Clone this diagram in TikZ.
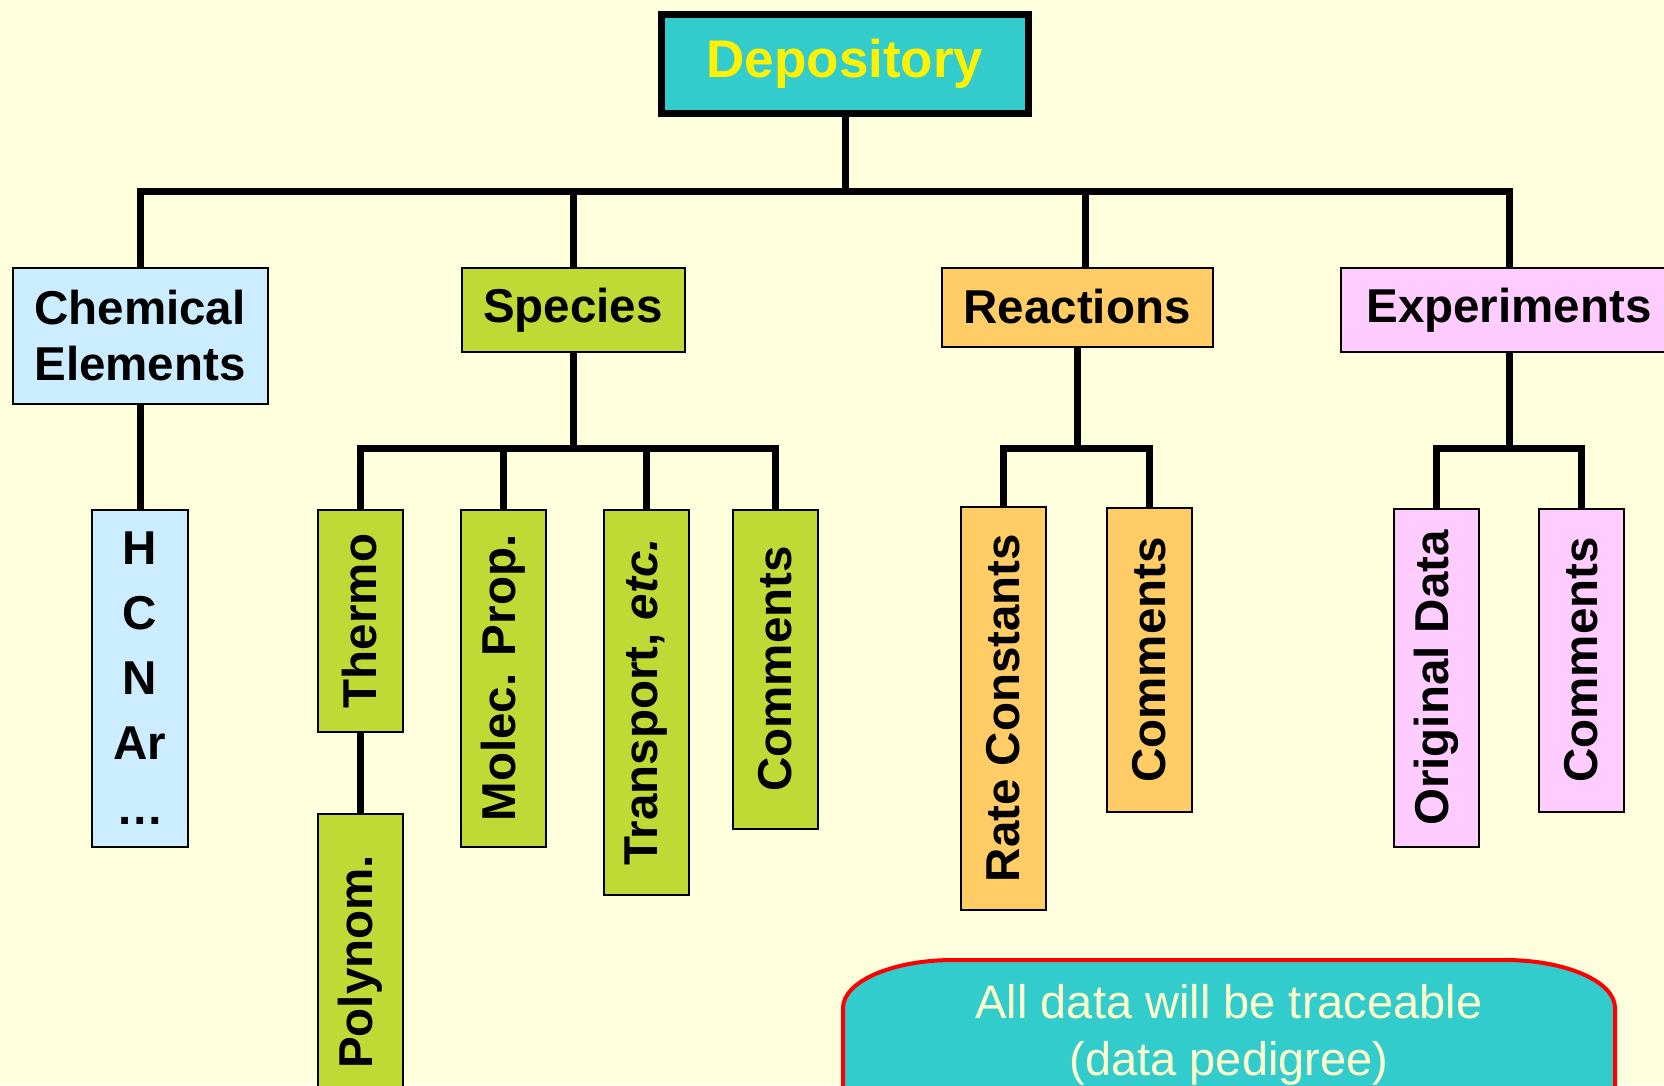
\documentclass[tikz,border=0pt]{standalone}
\usepackage{fontspec}
\setmainfont{Liberation Sans}
\usetikzlibrary{positioning,calc}

\definecolor{paper}{HTML}{FFFFDD}
\definecolor{depcyan}{HTML}{33CCCC}
\definecolor{elemblue}{HTML}{CCECFF}
\definecolor{specgreen}{HTML}{BFDA35}
\definecolor{reacorange}{HTML}{FFCC66}
\definecolor{exppink}{HTML}{FFCCFF}
\definecolor{notecream}{HTML}{FFFFCC}

\tikzset{
  box/.style={draw=black, line width=2pt, inner sep=0pt, align=center,
    font=\fontsize{47.5}{56}\selectfont\bfseries},
  vbox/.style={box, rotate=90, minimum height=85pt},
  link/.style={line width=7pt},
}

\begin{document}
\begin{tikzpicture}[x=1pt,y=-1pt]

  \fill[paper] (0,0) rectangle (1664,1085);
  \useasboundingbox (0,0) rectangle (1664,1085);
  \clip (0,0) rectangle (1664,1085);

  % top level
  \node[box, line width=7pt, fill=depcyan, text=yellow, minimum width=367pt, minimum height=99pt,
        font=\fontsize{53}{60}\selectfont\bfseries] (depository) at (845,64) {Depository};

  \node[box, fill=elemblue, minimum width=255pt, minimum height=136pt] (chem) at (140,336) {Chemical\\Elements};
  \node[box, fill=specgreen, minimum width=223pt, minimum height=84pt] (species) at (573,310) {Species};
  \node[box, fill=reacorange, minimum width=271pt, minimum height=79pt] (reactions) at (1077,307) {Reactions};
  \node[box, fill=exppink, minimum width=336pt, minimum height=84pt] (experiments) at (1509,310) {Experiments};

  % second level
  \node[box, fill=elemblue, minimum width=96pt, minimum height=337pt,
        font=\fontsize{47.5}{65}\selectfont\bfseries] (elements) at (140,678) {H\\C\\N\\Ar\\…};

  \node[vbox, fill=specgreen, minimum width=222pt] (thermo) at (360,621) {Thermo};
  \node[vbox, fill=specgreen, minimum width=297pt] (polynom) at (360,962) {Polynom.};
  \node[vbox, fill=specgreen, minimum width=337pt] (molec) at (503,678) {Molec. Prop.};
  \node[vbox, fill=specgreen, minimum width=385pt] (transport) at (646,702) {Transport, \textit{etc.}};
  \node[vbox, fill=specgreen, minimum width=319pt] (speccomments) at (775,669) {Comments};

  \node[vbox, fill=reacorange, minimum width=403pt] (rate) at (1003,708) {Rate Constants};
  \node[vbox, fill=reacorange, minimum width=304pt] (reaccomments) at (1149,660) {Comments};

  \node[vbox, fill=exppink, minimum width=338pt] (original) at (1436,678) {Original Data};
  \node[vbox, fill=exppink, minimum width=303pt] (expcomments) at (1581,660) {Comments};

  % connectors
  \coordinate (bus) at (845,191);
  \coordinate (subbus) at (845,448);

  \draw[link] (depository.south) -- (depository.south |- bus);
  \draw[link] (chem.north) -- (chem.north |- bus) -| (experiments.north);
  \draw[link] (species.north) -- (species.north |- bus);
  \draw[link] ([xshift=8pt]reactions.north) -- ([xshift=8pt]reactions.north |- bus);

  \draw[link] (chem.south) -- (elements.north);

  \draw[link] (species.south) -- (species.south |- subbus);
  \draw[link] (thermo.east) -- (thermo.east |- subbus) -| (speccomments.east);
  \draw[link] (molec.east) -- (molec.east |- subbus);
  \draw[link] (transport.east) -- (transport.east |- subbus);
  \draw[link] (thermo.west) -- (polynom.east);

  \draw[link] (reactions.south) -- (reactions.south |- subbus);
  \draw[link] (rate.east) -- (rate.east |- subbus) -| (reaccomments.east);

  \draw[link] (experiments.south) -- (experiments.south |- subbus);
  \draw[link] (original.east) -- (original.east |- subbus) -| (expcomments.east);

  % note
  \filldraw[fill=depcyan, draw=red, line width=4pt] (843,1100) -- (843,1008)
    arc[start angle=180, end angle=90, x radius=110pt, y radius=48pt]
    -- (1505,960)
    arc[start angle=90, end angle=0, x radius=110pt, y radius=48pt]
    -- (1615,1100);
  \node[text=notecream, align=center, inner sep=0pt, anchor=base,
        font=\fontsize{47}{57}\selectfont] (note) at (1229,1075) {All data will be traceable\\(data pedigree)};

\end{tikzpicture}
\end{document}
